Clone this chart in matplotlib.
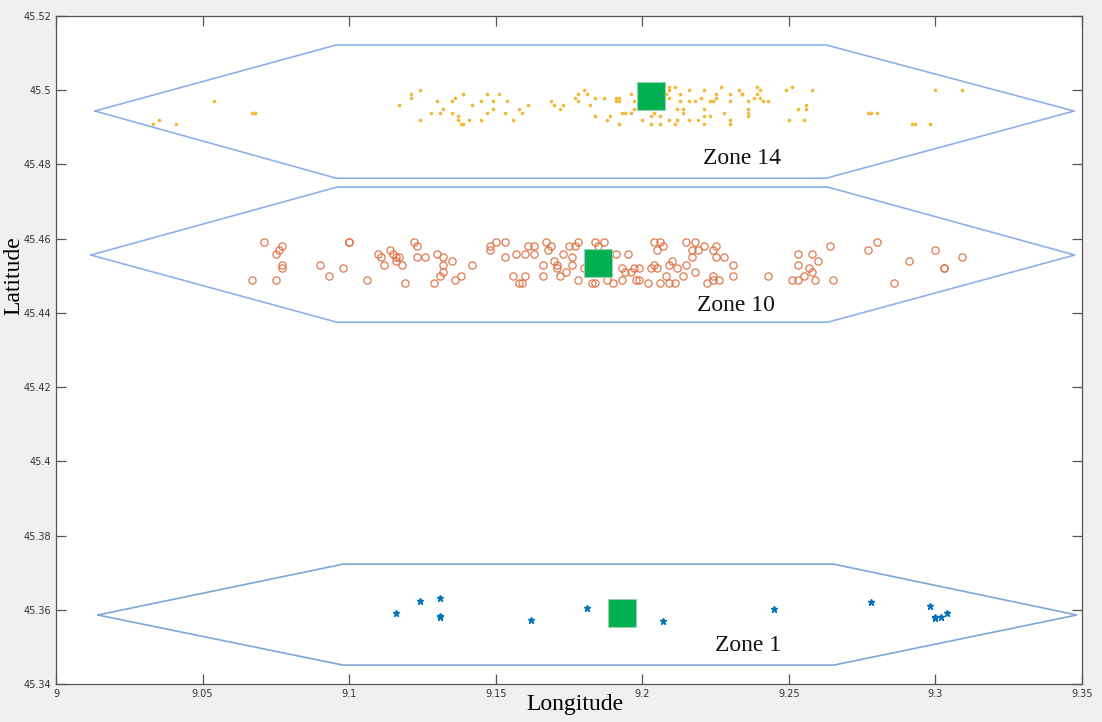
import matplotlib
matplotlib.use('Agg')
import matplotlib.pyplot as plt
from matplotlib.ticker import FuncFormatter, MultipleLocator

# Zone 14 stations (yellow dots)
lon_z14 = [9.054, 9.033, 9.035, 9.041, 9.067, 9.068, 9.117, 9.121, 9.121, 9.124, 9.124, 9.128,
           9.130, 9.131, 9.132, 9.135, 9.136, 9.135, 9.137, 9.137, 9.138, 9.139, 9.139, 9.142,
           9.141, 9.145, 9.145, 9.147, 9.147, 9.149, 9.149, 9.151, 9.153, 9.154, 9.156, 9.158,
           9.159, 9.161, 9.169, 9.170, 9.172, 9.173, 9.177, 9.178, 9.180, 9.181, 9.178, 9.182,
           9.184, 9.187, 9.184, 9.188, 9.189, 9.191, 9.192, 9.191, 9.192, 9.192, 9.193, 9.194,
           9.196, 9.196, 9.197, 9.197, 9.200, 9.203, 9.204, 9.203, 9.206, 9.206, 9.209, 9.209,
           9.208, 9.209, 9.209, 9.211, 9.212, 9.212, 9.211, 9.213, 9.213, 9.214, 9.214, 9.216,
           9.216, 9.218, 9.216, 9.219, 9.220, 9.221, 9.221, 9.221, 9.221, 9.223, 9.223, 9.224,
           9.225, 9.225, 9.227, 9.228, 9.230, 9.230, 9.230, 9.230, 9.233, 9.234, 9.234, 9.236,
           9.236, 9.236, 9.236, 9.238, 9.239, 9.239, 9.240, 9.240, 9.241, 9.243, 9.249, 9.251,
           9.250, 9.253, 9.256, 9.256, 9.255, 9.258, 9.277, 9.278, 9.280, 9.292, 9.293, 9.298,
           9.300, 9.309]
lat_z14 = [45.497, 45.491, 45.492, 45.491, 45.494, 45.494, 45.496, 45.499, 45.498, 45.500, 45.492, 45.494,
           45.497, 45.494, 45.495, 45.497, 45.498, 45.494, 45.493, 45.492, 45.491, 45.491, 45.499, 45.496,
           45.492, 45.497, 45.492, 45.499, 45.494, 45.497, 45.495, 45.499, 45.494, 45.497, 45.492, 45.495,
           45.494, 45.496, 45.497, 45.496, 45.495, 45.496, 45.498, 45.499, 45.500, 45.499, 45.497, 45.496,
           45.498, 45.498, 45.493, 45.492, 45.493, 45.498, 45.498, 45.497, 45.497, 45.491, 45.494, 45.494,
           45.499, 45.494, 45.497, 45.495, 45.492, 45.491, 45.494, 45.493, 45.493, 45.491, 45.501, 45.500,
           45.499, 45.498, 45.492, 45.501, 45.495, 45.492, 45.491, 45.499, 45.497, 45.495, 45.494, 45.500,
           45.497, 45.497, 45.492, 45.492, 45.498, 45.500, 45.495, 45.493, 45.491, 45.493, 45.497, 45.497,
           45.498, 45.499, 45.501, 45.494, 45.499, 45.497, 45.492, 45.491, 45.500, 45.499, 45.499, 45.497,
           45.495, 45.494, 45.493, 45.498, 45.501, 45.499, 45.500, 45.498, 45.497, 45.497, 45.500, 45.501,
           45.492, 45.495, 45.496, 45.495, 45.492, 45.500, 45.494, 45.494, 45.494, 45.491, 45.491, 45.491,
           45.500, 45.500]

# Zone 10 stations (orange circles)
lon_z10 = [9.071, 9.067, 9.075, 9.076, 9.077, 9.075, 9.077, 9.077, 9.090, 9.093, 9.098, 9.100,
           9.100, 9.106, 9.110, 9.111, 9.112, 9.114, 9.115, 9.116, 9.117, 9.116, 9.118, 9.119,
           9.122, 9.123, 9.123, 9.126, 9.129, 9.130, 9.132, 9.132, 9.132, 9.131, 9.135, 9.136,
           9.138, 9.142, 9.148, 9.148, 9.150, 9.153, 9.153, 9.156, 9.157, 9.158, 9.159, 9.160,
           9.160, 9.161, 9.163, 9.163, 9.166, 9.166, 9.167, 9.168, 9.169, 9.170, 9.171, 9.171,
           9.172, 9.173, 9.174, 9.175, 9.176, 9.176, 9.178, 9.178, 9.177, 9.180, 9.183, 9.184,
           9.184, 9.187, 9.185, 9.190, 9.188, 9.191, 9.193, 9.193, 9.194, 9.195, 9.196, 9.197,
           9.199, 9.198, 9.199, 9.202, 9.203, 9.204, 9.205, 9.206, 9.208, 9.209, 9.211, 9.209,
           9.210, 9.212, 9.215, 9.214, 9.204, 9.206, 9.207, 9.205, 9.215, 9.217, 9.218, 9.219,
           9.221, 9.217, 9.218, 9.224, 9.225, 9.225, 9.224, 9.222, 9.224, 9.226, 9.228, 9.231,
           9.231, 9.243, 9.251, 9.253, 9.253, 9.253, 9.255, 9.257, 9.258, 9.258, 9.259, 9.260,
           9.264, 9.265, 9.277, 9.280, 9.286, 9.291, 9.300, 9.303, 9.303, 9.309]
lat_z10 = [45.459, 45.449, 45.449, 45.457, 45.458, 45.456, 45.453, 45.452, 45.453, 45.450, 45.452, 45.459,
           45.459, 45.449, 45.456, 45.455, 45.453, 45.457, 45.456, 45.455, 45.455, 45.454, 45.453, 45.448,
           45.459, 45.458, 45.455, 45.455, 45.448, 45.456, 45.455, 45.453, 45.451, 45.450, 45.454, 45.449,
           45.450, 45.453, 45.458, 45.457, 45.459, 45.459, 45.455, 45.450, 45.456, 45.448, 45.448, 45.450,
           45.456, 45.458, 45.458, 45.456, 45.453, 45.450, 45.459, 45.457, 45.458, 45.454, 45.453, 45.452,
           45.450, 45.456, 45.451, 45.458, 45.455, 45.453, 45.459, 45.449, 45.458, 45.452, 45.448, 45.448,
           45.459, 45.459, 45.458, 45.448, 45.449, 45.456, 45.449, 45.452, 45.451, 45.456, 45.451, 45.452,
           45.452, 45.449, 45.449, 45.448, 45.452, 45.453, 45.452, 45.448, 45.450, 45.448, 45.448, 45.453,
           45.454, 45.452, 45.453, 45.450, 45.459, 45.459, 45.458, 45.457, 45.459, 45.457, 45.459, 45.457,
           45.458, 45.455, 45.451, 45.457, 45.458, 45.455, 45.450, 45.448, 45.449, 45.449, 45.455, 45.453,
           45.450, 45.450, 45.449, 45.449, 45.453, 45.456, 45.450, 45.452, 45.456, 45.451, 45.449, 45.454,
           45.458, 45.449, 45.457, 45.459, 45.448, 45.454, 45.457, 45.452, 45.452, 45.455]

# Zone 1 stations (blue stars)
lon_z1 = [9.116, 9.124, 9.131, 9.131, 9.131, 9.162, 9.181, 9.207, 9.245, 9.278, 9.298, 9.300,
          9.300, 9.302, 9.304]
lat_z1 = [45.3591, 45.3624, 45.3632, 45.3580, 45.3582, 45.3572, 45.3605, 45.3571, 45.3602, 45.3621,
          45.3610, 45.3580, 45.3578, 45.3580, 45.3591]

# Zone centres (green squares)
centre_lon = [9.203, 9.185, 9.193]
centre_lat = [45.4984, 45.4534, 45.3591]

# Zone outlines (hexagons)
hex_z14_lon = [9.0133, 9.0956, 9.2627, 9.3473, 9.2627, 9.0956, 9.0133]
hex_z14_lat = [45.4944, 45.5122, 45.5122, 45.4944, 45.4763, 45.4763, 45.4944]
hex_z10_lon = [9.0119, 9.0958, 9.2633, 9.3475, 9.2633, 9.0958, 9.0119]
hex_z10_lat = [45.4556, 45.4739, 45.4739, 45.4556, 45.4375, 45.4375, 45.4556]
hex_z1_lon = [9.0143, 9.0979, 9.2653, 9.3482, 9.2653, 9.0979, 9.0143]
hex_z1_lat = [45.3586, 45.3723, 45.3723, 45.3586, 45.3451, 45.3451, 45.3586]

zone_names = ['Zone 14', 'Zone 10', 'Zone 1']
label_lon = [9.234, 9.232, 9.236]
label_lat = [45.4817, 45.4421, 45.3505]

fig = plt.figure(figsize=(11.02, 7.22), dpi=100, facecolor='#f0f0f0')
ax = fig.add_axes([0.0508, 0.0526, 0.9311, 0.9252])
ax.set_facecolor('white')

ax.plot(hex_z14_lon, hex_z14_lat, color='#8db0ea', lw=1.2)
ax.plot(hex_z10_lon, hex_z10_lat, color='#8db0ea', lw=1.2)
ax.plot(hex_z1_lon, hex_z1_lat, color='#7ea6d6', lw=1.2)

ax.plot(lon_z14, lat_z14, 'o', ms=2.3, color='#f0b429', mec='#f5c65a', mew=0.4, ls='none')
ax.plot(lon_z10, lat_z10, 'o', ms=5.2, mfc='none', mec='#de6a3c', mew=0.9, ls='none', alpha=0.9)
ax.plot(lon_z1, lat_z1, '*', ms=4.5, color='#0072bd', ls='none')

ax.plot(centre_lon, centre_lat, 's', ms=19.5, color='#00b050', mec='#9ccfb0', mew=0.8, ls='none')

for name, x, y in zip(zone_names, label_lon, label_lat):
    ax.text(x, y, name, fontsize=17, family='Liberation Serif', ha='center', va='center', color='#111111')

ax.set_xlim(9, 9.35)
ax.set_ylim(45.34, 45.52)
ax.xaxis.set_major_locator(MultipleLocator(0.05))
ax.yaxis.set_major_locator(MultipleLocator(0.02))
fmt = FuncFormatter(lambda v, p: '%g' % round(v, 4))
ax.xaxis.set_major_formatter(fmt)
ax.yaxis.set_major_formatter(fmt)
ax.tick_params(direction='in', length=7, width=0.9, color='#555555', labelsize=7,
               labelcolor='#333333', top=True, right=True, pad=3.5)
for s in ax.spines.values():
    s.set_color('#555555')
    s.set_linewidth(0.9)

fig.text(0.522, 0.024, 'Longitude', fontsize=17, family='Liberation Serif', ha='center', va='center')
fig.text(0.0125, 0.618, 'Latitude', fontsize=17, family='Liberation Serif', ha='center', va='center',
         rotation=90)

plt.savefig('out.png', dpi=100, facecolor=fig.get_facecolor())
